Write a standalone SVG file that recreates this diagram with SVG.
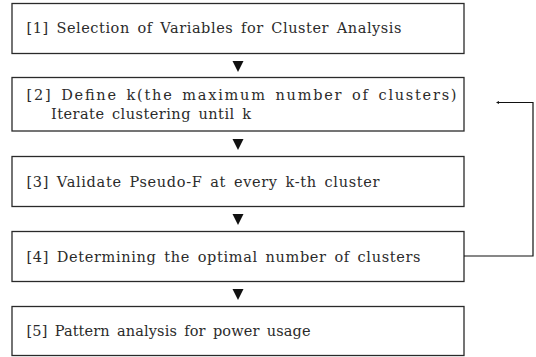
<svg xmlns="http://www.w3.org/2000/svg" width="536" height="357" viewBox="0 0 536 357">
<style>
.box{fill:#fff;stroke:#2a2a2a;stroke-width:1.3}
.t{font-family:"DejaVu Serif","Liberation Serif",serif;font-size:14.5px;fill:#2b2b2b;word-spacing:2.5px}
.tri{fill:#111}
.ln{fill:none;stroke:#111;stroke-width:1.2}
</style>
<defs>
<marker id="ah" markerWidth="3" markerHeight="3" refX="2" refY="1.5" orient="auto" markerUnits="userSpaceOnUse">
<path d="M0,0 L3,1.5 L0,3 z" fill="#111"/>
</marker>
</defs>
<rect width="536" height="357" fill="#fff"/>
<g id="node1">
<rect class="box" x="12" y="3.5" width="452" height="50"/>
<text class="t" x="26.5" y="32.5" textLength="375" lengthAdjust="spacing">[1] Selection of Variables for Cluster Analysis</text>
</g>
<g id="node2">
<rect class="box" x="12" y="77.5" width="452" height="53.5"/>
<text class="t" x="26.5" y="100" textLength="430" lengthAdjust="spacing">[2] Define k(the maximum number of clusters)</text>
<text class="t" x="51" y="118.5" textLength="200" lengthAdjust="spacing">Iterate clustering until k</text>
</g>
<g id="node3">
<rect class="box" x="12" y="156.5" width="452" height="50"/>
<text class="t" x="26.5" y="186.5" textLength="353" lengthAdjust="spacing">[3] Validate Pseudo-F at every k-th cluster</text>
</g>
<g id="node4">
<rect class="box" x="12" y="231.5" width="452" height="50"/>
<text class="t" x="26.5" y="261.5" textLength="394" lengthAdjust="spacing">[4] Determining the optimal number of clusters</text>
</g>
<g id="node5">
<rect class="box" x="12" y="306.5" width="452" height="49"/>
<text class="t" x="26.5" y="335.5" textLength="284" lengthAdjust="spacing">[5] Pattern analysis for power usage</text>
</g>
<g id="connectors">
<polygon class="tri" points="232.5,61 243.5,61 238,72"/>
<polygon class="tri" points="232.5,139 243.5,139 238,150"/>
<polygon class="tri" points="232.5,214 243.5,214 238,225"/>
<polygon class="tri" points="232.5,289 243.5,289 238,300"/>
<path class="ln" d="M464,256 H533 V102.5 H497" marker-end="url(#ah)"/>
</g>
</svg>
